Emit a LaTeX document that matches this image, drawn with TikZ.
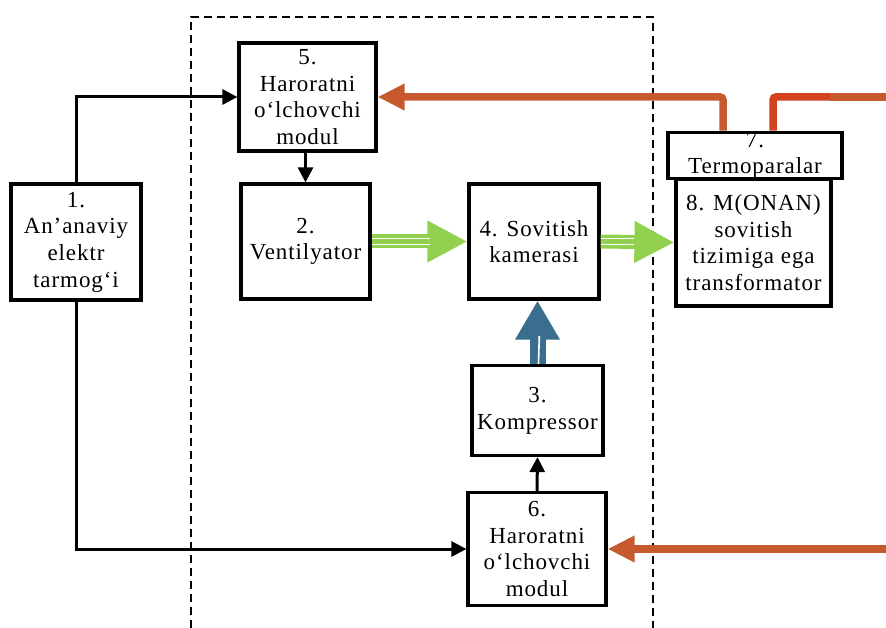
\documentclass[tikz,border=0pt]{standalone}
\usepackage{fontspec}
\setmainfont{Liberation Serif}[LetterSpace=4]
\usetikzlibrary{arrows.meta}

\definecolor{heatline}{HTML}{C65A2E}
\definecolor{heatlinered}{HTML}{D2421F}
\definecolor{airflow}{HTML}{92D050}
\definecolor{coolant}{HTML}{3A6E8F}

\tikzset{
  block/.style={draw=black, line width=3.2pt, rectangle, inner sep=0pt,
    align=center, font=\fontsize{23pt}{26.7pt}\selectfont},
  signal/.style={draw=black, line width=3pt,
    -{Triangle[length=15pt,width=15pt]}},
  heat/.style={draw=heatline, line width=7.5pt,
    -{Triangle[length=27pt,width=25pt]}},
  air/.style={draw=airflow, line width=14pt,
    -{Triangle[length=40pt,width=39pt]}},
  coolflow/.style={draw=coolant, line width=16pt,
    -{Triangle[length=39pt,width=42pt]}},
  gap/.style={draw=white, line width=1.3pt},
  boundary/.style={draw=black, line width=1.8pt, dash pattern=on 8pt off 5pt}
}

\begin{document}
\begin{tikzpicture}[x=1pt, y=-1pt]
\useasboundingbox (0,0) rectangle (886,628);

% cooling unit boundary (open at the bottom)
\draw[boundary] (191,628) -- (191,17) -- (653,17) -- (653,628);

% blocks
\node[block, minimum width=130pt, minimum height=116pt] (n1) at (76,242)
  {1.\\An’anaviy\\elektr\\tarmog‘i};
\node[block, minimum width=137pt, minimum height=108pt] (n5) at (307.5,97)
  {5.\\Haroratni\\o‘lchovchi\\modul};
\node[block, minimum width=129pt, minimum height=115pt] (n2) at (305.5,241.5)
  {2.\\Ventilyator};
\node[block, minimum width=130pt, minimum height=115pt] (n4) at (534,241.5)
  {4. Sovitish\\kamerasi};
\node[block, minimum width=155pt, minimum height=127pt] (n8) at (753.5,242.5)
  {8. M(ONAN)\\sovitish\\tizimiga ega\\transformator};
\node[block, minimum width=174pt, minimum height=45pt] (n7) at (755,155.5)
  {7.\\Termoparalar};
\node[block, minimum width=131pt, minimum height=90pt] (n3) at (537.5,410.5)
  {3.\\Kompressor};
\node[block, minimum width=138pt, minimum height=113pt] (n6) at (537,549)
  {6.\\Haroratni\\o‘lchovchi\\modul};

% free ends of the thermocouple lines at the right edge
\coordinate (tcOut) at (886,97);
\coordinate (tcIn) at (886,549);

% power supply lines
\draw[signal] (n1.north) |- (n5.west);
\draw[signal] (n1.south) |- (n6.west);

% control signals
\draw[signal] (n5.south -| n2.north) -- (n2.north);
\draw[signal] (n6.north) -- (n3.south);

% air flow
\draw[air] (n2.east) -- (n4.west);
\draw[gap] ([yshift=2.7pt]n2.east) -- ++(58,0);
\draw[gap] ([yshift=-2.7pt]n2.east) -- ++(58,0);
\draw[gap] ([xshift=16pt,yshift=7pt]n2.east) -- ++(0,-14);

\draw[air] (n4.east) -- (n8.west);
\draw[gap] ([yshift=2.7pt]n4.east) -- ++(33,0);
\draw[gap] ([yshift=-2.7pt]n4.east) -- ++(33,0);
\draw[draw=white, line width=4pt] ([xshift=-16pt,yshift=12pt]n8.west) -- ++(0,-24);

% refrigerant flow
\draw[coolflow] (n3.north) -- (n3.north |- n4.south);
\draw[gap, line width=1.6pt] ([xshift=1pt]n3.north) -- ++(0.8,-28);

% thermocouple signals
\draw[heat, rounded corners=3pt] ([xshift=-32pt]n7.north) |- (n5.east);
\draw[draw=heatlinered, line width=7.5pt, rounded corners=3pt]
  ([xshift=18pt]n7.north) |- (832,97);
\draw[draw=heatline, line width=7.5pt] (830,97) -- (tcOut);
\draw[heat] (tcIn) -- (n6.east);

\end{tikzpicture}
\end{document}
